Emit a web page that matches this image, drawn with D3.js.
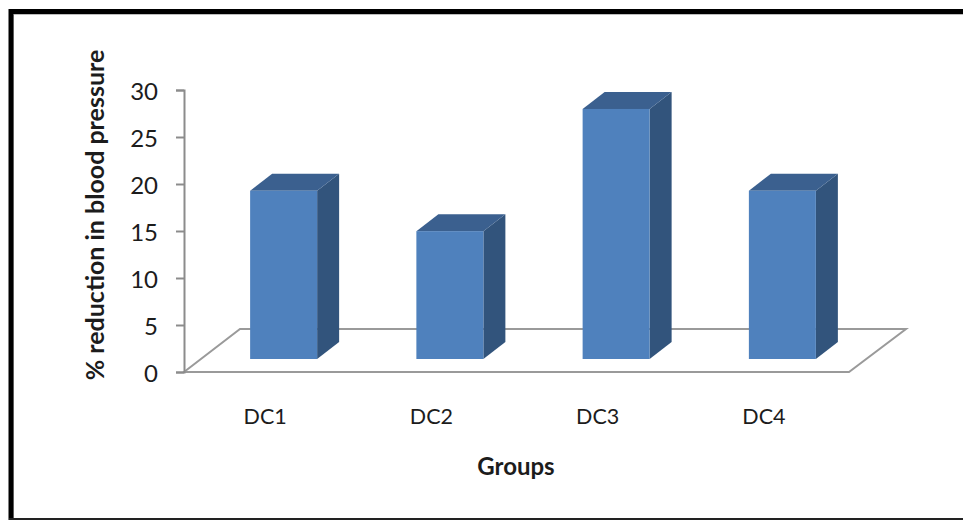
<!DOCTYPE html>
<html>
<head>
<meta charset="utf-8">
<script src="https://cdn.jsdelivr.net/npm/d3@7/dist/d3.min.js"></script>
<style>
  html, body { margin: 0; padding: 0; background: #fff; }
  svg { display: block; }
  text { font-family: Lato, "Open Sans", sans-serif; fill: #1c1c1c; }
</style>
</head>
<body>
<svg id="chart" width="963" height="520"></svg>
<script>
// Chart values
const groups = ["DC1", "DC2", "DC3", "DC4"];
const reduction = [17.9, 13.6, 26.6, 17.9];
const yTicks = [0, 5, 10, 15, 20, 25, 30];
const yTitle = "% reduction in blood pressure";
const xTitle = "Groups";

const svg = d3.select("#chart");

// Outer frame
svg.append("path")
  .attr("d", "M963,14.5H13.5V519")
  .attr("fill", "none")
  .attr("stroke", "#bdbdbd")
  .attr("stroke-width", 1);
svg.append("path")
  .attr("d", "M963,11.5H11V520")
  .attr("fill", "none")
  .attr("stroke", "#000")
  .attr("stroke-width", 5);
svg.append("rect")
  .attr("x", 9).attr("y", 518)
  .attr("width", 954).attr("height", 2)
  .attr("fill", "#222");

// Scales for the front plane of the floor
const y = d3.scaleLinear().domain([0, 30]).range([372, 90]);
const x = d3.scaleBand().domain(groups).range([184, 849]);

// Depth of the 3D projection
const floorDx = 56, floorDy = 43;
const barLift = 13, barShift = 16.5, barW = 67, sideDx = 22, sideDy = 17;

// Floor parallelogram
svg.append("path")
  .attr("d", d3.line()([
    [x.range()[0], y(0)],
    [x.range()[0] + floorDx, y(0) - floorDy],
    [x.range()[1] + floorDx + 1, y(0) - floorDy],
    [x.range()[1], y(0)]
  ]) + "Z")
  .attr("fill", "none")
  .attr("stroke", "#9a9a9a")
  .attr("stroke-width", 2);

// Value axis
const yAxis = svg.append("g")
  .attr("transform", `translate(${x.range()[0]},0)`)
  .call(d3.axisLeft(y).tickValues(yTicks).tickSize(8).tickPadding(18).tickSizeOuter(8));
yAxis.selectAll("path, line").attr("stroke", "#8c8c8c").attr("stroke-width", 2);
yAxis.selectAll("text")
  .style("font-family", "Lato, sans-serif")
  .style("font-size", "24px")
  .attr("y", 2)
  .attr("fill", "#2a2a2a");

// Bars: side face, top face and front face
const bars = svg.append("g").selectAll("g")
  .data(groups.map((g, i) => ({ g, v: reduction[i] })))
  .join("g");

const barLeft = d => x(d.g) + x.bandwidth() / 2 - barW / 2 + barShift;
const barBase = y(0) - barLift;
const barTop = d => barBase - (y(0) - y(d.v));

bars.append("path")
  .attr("fill", "#32547c")
  .attr("d", d => d3.line()([
    [barLeft(d) + barW, barTop(d)],
    [barLeft(d) + barW + sideDx, barTop(d) - sideDy],
    [barLeft(d) + barW + sideDx, barBase - sideDy],
    [barLeft(d) + barW, barBase]
  ]) + "Z");

bars.append("path")
  .attr("fill", "#3b608f")
  .attr("d", d => d3.line()([
    [barLeft(d), barTop(d)],
    [barLeft(d) + sideDx, barTop(d) - sideDy],
    [barLeft(d) + barW + sideDx, barTop(d) - sideDy],
    [barLeft(d) + barW, barTop(d)]
  ]) + "Z");

bars.append("rect")
  .attr("fill", "#4f81bd")
  .attr("x", barLeft)
  .attr("y", barTop)
  .attr("width", barW)
  .attr("height", d => barBase - barTop(d));

// Category labels
svg.append("g").selectAll("text")
  .data(groups)
  .join("text")
  .attr("x", d => x(d) + x.bandwidth() / 2 - 2)
  .attr("y", 424)
  .attr("text-anchor", "middle")
  .style("font-size", "21.5px")
  .text(d => d);

// Axis titles
svg.append("text")
  .attr("x", 516)
  .attr("y", 475)
  .attr("text-anchor", "middle")
  .style("font-size", "24px")
  .style("font-weight", 700)
  .text(xTitle);

svg.append("text")
  .attr("transform", "translate(104,215) rotate(-90)")
  .attr("text-anchor", "middle")
  .style("font-size", "25px")
  .style("font-weight", 700)
  .text(yTitle);
</script>
</body>
</html>
